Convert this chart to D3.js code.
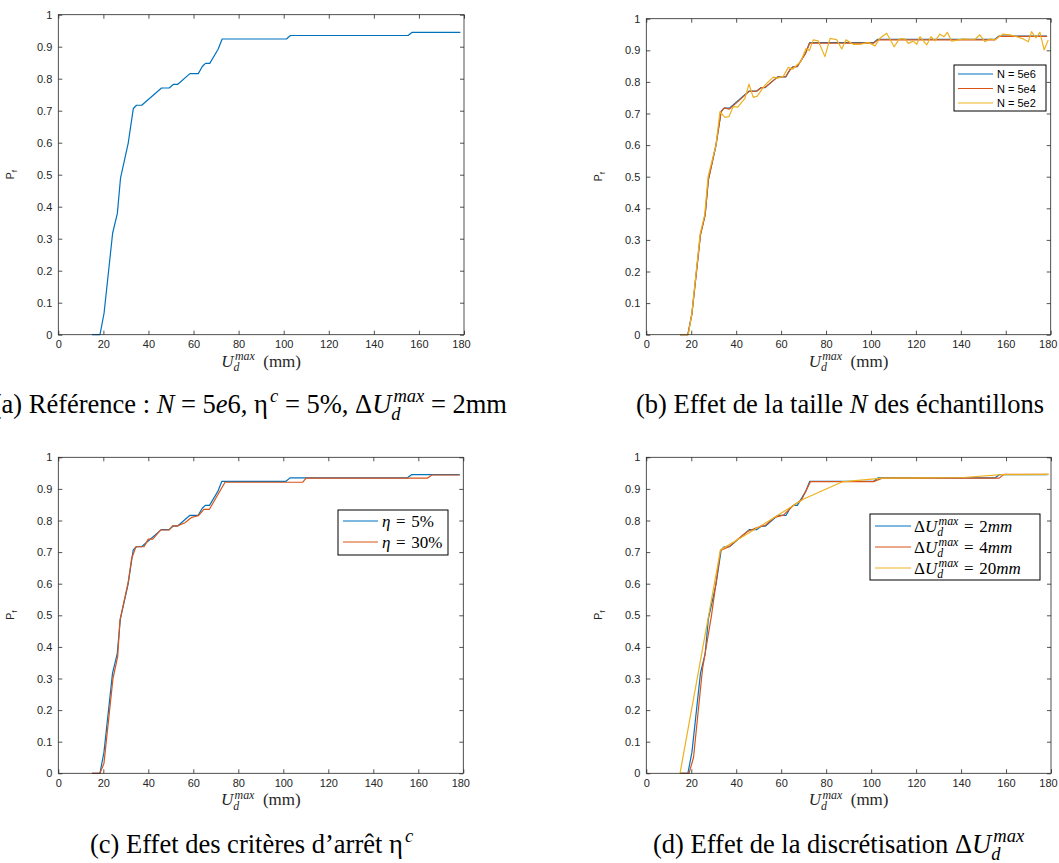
<!DOCTYPE html>
<html>
<head>
<meta charset="utf-8">
<script src="https://cdn.jsdelivr.net/npm/d3@7"></script>
<style>
body { margin: 0; background: #fff; }
text { white-space: pre; }
</style>
</head>
<body>
<div id="chart-area"></div>
<script>
// ticks
var xTicks = [0, 20, 40, 60, 80, 100, 120, 140, 160, 180];
var yTicks = [0, 0.1, 0.2, 0.3, 0.4, 0.5, 0.6, 0.7, 0.8, 0.9, 1];
var yTickLabels = ["0", "0.1", "0.2", "0.3", "0.4", "0.5", "0.6", "0.7", "0.8", "0.9", "1"];

// reference curve : N = 5e6, eta = 5%, dU = 2mm
var refX = [15, 18.5, 20.3, 24.1, 26.2, 27.6, 31.0, 33.3, 34.7, 37.0, 45.8, 49.2, 51.0, 52.9, 58.4, 62.1, 63.9, 65.3, 67.2, 70.9, 72.7, 101.2, 103.0, 155.2, 157.0, 178.4];
var refY = [0, 0, 0.067, 0.317, 0.379, 0.489, 0.598, 0.707, 0.717, 0.717, 0.771, 0.771, 0.782, 0.782, 0.816, 0.816, 0.838, 0.848, 0.848, 0.892, 0.924, 0.924, 0.935, 0.935, 0.945, 0.945];

// N = 5e4 (same grid as ref)
var n5e4Y = [0, 0, 0.065, 0.315, 0.38, 0.49, 0.6, 0.705, 0.718, 0.714, 0.77, 0.771, 0.781, 0.783, 0.815, 0.817, 0.838, 0.847, 0.849, 0.89, 0.923, 0.923, 0.933, 0.933, 0.944, 0.944];

// N = 5e2
var n5e2X = [15, 18.7, 20.3, 24, 26, 27.5, 31, 32.8, 35, 36.8, 38.7, 40.7, 43.9, 45.7, 47.6, 49.4, 52.8, 56.5, 58.5, 61,
	63.2, 65.2, 66.6, 68.7, 71.1, 72.6, 74.3, 76.5, 79.5, 81.8, 84.7, 87, 88.9, 92.1, 95.1, 98.8, 101.8, 104, 107, 110.3,
	112.6, 115.1, 116.6, 118.8, 120.4, 121.8, 124.8, 126.7, 128.5, 130.7, 132.5, 134, 135.9, 138.4, 141.1, 143.3, 146.3, 148.5, 150.7, 153,
	155.2, 158.6, 161.9, 164.9, 167.8, 170, 171.5, 173.4, 175.2, 177.1, 178.9];
var n5e2Y = [0, 0, 0.07, 0.32, 0.38, 0.5, 0.6, 0.706, 0.688, 0.69, 0.722, 0.72, 0.748, 0.793, 0.751, 0.755, 0.79, 0.815, 0.812, 0.818,
	0.846, 0.84, 0.851, 0.864, 0.906, 0.899, 0.933, 0.93, 0.88, 0.938, 0.934, 0.904, 0.933, 0.919, 0.919, 0.925, 0.914, 0.938, 0.954, 0.911,
	0.936, 0.936, 0.922, 0.929, 0.919, 0.943, 0.917, 0.943, 0.93, 0.951, 0.943, 0.957, 0.929, 0.932, 0.936, 0.935, 0.935, 0.949, 0.927, 0.936,
	0.933, 0.951, 0.949, 0.943, 0.936, 0.927, 0.959, 0.939, 0.957, 0.901, 0.933];

// eta = 30%
var eta30X = [15, 18.5, 20.3, 24.3, 26.4, 27.4, 31.1, 32.6, 34.5, 38.1, 40, 42, 45.5, 49.3, 50.8, 52.9, 56.3, 59.3, 62.2, 64.7, 67.1, 74.1, 108.6, 110.1, 164, 166, 178.4];
var eta30Y = [0, 0, 0.032, 0.3, 0.37, 0.485, 0.606, 0.68, 0.717, 0.717, 0.741, 0.741, 0.77, 0.77, 0.783, 0.783, 0.793, 0.81, 0.815, 0.835, 0.835, 0.921, 0.921, 0.934, 0.934, 0.944, 0.944];

// dU = 4mm
var du4X = [15, 19, 21, 25, 29, 33, 37, 41, 45, 49, 53, 57, 61, 65, 69, 73, 101, 105, 157, 159, 178.8];
var du4Y = [0, 0, 0.05, 0.33, 0.5, 0.705, 0.718, 0.742, 0.765, 0.777, 0.785, 0.81, 0.817, 0.845, 0.865, 0.923, 0.923, 0.934, 0.934, 0.946, 0.946];

// dU = 20mm
var du20X = [15, 33, 53, 70, 87, 105, 123, 141, 158, 179];
var du20Y = [0, 0.707, 0.792, 0.868, 0.922, 0.934, 0.935, 0.936, 0.945, 0.946];

var blue = "#0072BD", red = "#D95319", yellow = "#EDB120";
var axisColor = "#262626";
var serif = "'Liberation Serif', 'DejaVu Serif', serif";
var sans = "'Liberation Sans', Arial, sans-serif";
var EQ = "\u2004=\u2004";

var svg = d3.select("#chart-area").append("svg")
	.attr("width", 1059)
	.attr("height", 863);

// one <text>, pieces as tspans, sub and sup stacked
function drawMath(text, parts, size) {
	var shift = 0, pending = 0;
	var raise = size * 0.4, lower = size * 0.26;
	parts.forEach(function(p) {
		if (p.sup !== undefined || p.sub !== undefined) {
			var wSup = 0;
			if (p.sup) {
				var ts = text.append("tspan")
					.attr("dx", pending + size * 0.08)
					.attr("dy", -raise - shift)
					.style("font-size", (size * 0.7) + "px")
					.style("font-style", "italic")
					.text(p.sup);
				shift = -raise;
				wSup = ts.node().getComputedTextLength() + size * 0.08;
				pending = 0;
			}
			if (p.sub) {
				var tb = text.append("tspan")
					.attr("dx", pending - wSup)
					.attr("dy", lower - shift)
					.style("font-size", (size * 0.7) + "px")
					.style("font-style", "italic")
					.text(p.sub);
				shift = lower;
				pending = Math.max(0, wSup - tb.node().getComputedTextLength());
			}
		} else {
			text.append("tspan")
				.attr("dx", pending)
				.attr("dy", -shift)
				.style("font-size", size + "px")
				.style("font-style", p.i ? "italic" : "normal")
				.text(p.t);
			shift = 0;
			pending = 0;
		}
	});
}

function mathCentered(parent, parts, size, cx, y) {
	var t = parent.append("text")
		.attr("x", 0).attr("y", y)
		.style("font-family", serif)
		.attr("fill", "#000");
	drawMath(t, parts, size);
	var bb = t.node().getBBox();
	t.attr("x", cx - bb.width / 2 - bb.x);
	return t;
}

function udLabel(val) {
	return [{t: "Δ"}, {t: "U", i: 1}, {sup: "max", sub: "d"}, {t: EQ + val}, {t: "mm", i: 1}];
}

var panels = [
	{
		left: 58.3, right: 464, top: 14.7, bottom: 334.7, capX: 250, capY: 413,
		series: [{x: refX, y: refY, color: blue}],
		caption: [{t: "(a) Référence : "}, {t: "N", i: 1}, {t: " = 5"}, {t: "e", i: 1}, {t: "6, η"}, {sup: "c"},
			{t: " = 5%, Δ"}, {t: "U", i: 1}, {sup: "max", sub: "d"}, {t: " = 2mm"}]
	},
	{
		left: 646.3, right: 1050.7, top: 18.7, bottom: 334.7, capX: 840, capY: 413,
		series: [
			{x: refX, y: refY, color: blue, label: "N = 5e6"},
			{x: refX, y: n5e4Y, color: red, label: "N = 5e4"},
			{x: n5e2X, y: n5e2Y, color: yellow, label: "N = 5e2"}
		],
		legend: {x: 954, y: 65, w: 92, h: 46, rows: [74, 88.5, 103], l0: 958, l1: 993, tx: 997, math: false},
		caption: [{t: "(b) Effet de la taille "}, {t: "N", i: 1}, {t: " des échantillons"}]
	},
	{
		left: 58.3, right: 463.3, top: 457.3, bottom: 773.3, capX: 252, capY: 853,
		series: [
			{x: refX, y: refY, color: blue, label: [{t: "η", i: 1}, {t: EQ + "5%"}]},
			{x: eta30X, y: eta30Y, color: red, label: [{t: "η", i: 1}, {t: EQ + "30%"}]}
		],
		legend: {x: 338, y: 510, w: 110, h: 45, rows: [521, 542], l0: 343, l1: 378, tx: 382, math: true, size: 17},
		caption: [{t: "(c) Effet des critères d’arrêt η"}, {sup: "c"}]
	},
	{
		left: 646.3, right: 1051, top: 457.3, bottom: 773.3, capX: 839, capY: 853,
		series: [
			{x: refX, y: refY, color: blue, label: udLabel("2")},
			{x: du4X, y: du4Y, color: red, label: udLabel("4")},
			{x: du20X, y: du20Y, color: yellow, label: udLabel("20")}
		],
		legend: {x: 870, y: 514, w: 170, h: 66, rows: [526, 547, 568], l0: 875, l1: 911, tx: 914, math: true, size: 17},
		caption: [{t: "(d) Effet de la discrétisation Δ"}, {t: "U", i: 1}, {sup: "max", sub: "d"}]
	}
];

panels.forEach(function(p) {
	var g = svg.append("g");

	var x = d3.scaleLinear().domain([0, 180]).range([p.left, p.right]);
	var y = d3.scaleLinear().domain([0, 1]).range([p.bottom, p.top]);

	// curves
	var line = d3.line().x(function(d) { return x(d[0]); }).y(function(d) { return y(d[1]); });
	p.series.forEach(function(s) {
		g.append("path")
			.datum(d3.zip(s.x, s.y))
			.attr("d", line)
			.attr("fill", "none")
			.attr("stroke", s.color)
			.attr("stroke-width", 1.2)
			.attr("stroke-linejoin", "round");
	});

	// axes, ticks pointing inwards on all four sides
	var ax = [
		{a: d3.axisBottom(x).tickValues(xTicks).tickFormat(d3.format("d")), t: "translate(0," + p.bottom + ")"},
		{a: d3.axisTop(x).tickValues(xTicks).tickFormat(""), t: "translate(0," + p.top + ")"},
		{a: d3.axisLeft(y).tickValues(yTicks).tickFormat(function(d, i) { return yTickLabels[i]; }), t: "translate(" + p.left + ",0)"},
		{a: d3.axisRight(y).tickValues(yTicks).tickFormat(""), t: "translate(" + p.right + ",0)"}
	];
	ax.forEach(function(o, k) {
		var ag = g.append("g")
			.attr("transform", o.t)
			.call(o.a.tickSizeInner(-4).tickSizeOuter(0).tickPadding(6));
		ag.select(".domain").remove();
		ag.selectAll("line").attr("stroke", axisColor).attr("stroke-width", 0.8);
		ag.selectAll("text")
			.attr("fill", axisColor)
			.style("font-family", sans)
			.style("font-size", "11px");
		if (k == 0) {
			ag.selectAll("text").filter(function(d) { return d == 180; }).attr("dx", -3);
		}
	});

	g.append("rect")
		.attr("x", p.left)
		.attr("y", p.top)
		.attr("width", p.right - p.left)
		.attr("height", p.bottom - p.top)
		.attr("fill", "none")
		.attr("stroke", axisColor)
		.attr("stroke-width", 0.8);

	// y label P_f
	var yl = g.append("text")
		.attr("transform", "translate(" + (p.left - 44) + "," + ((p.top + p.bottom) / 2) + ") rotate(-90)")
		.attr("text-anchor", "middle")
		.attr("fill", axisColor)
		.style("font-family", sans)
		.style("font-size", "11px");
	yl.append("tspan").text("P");
	yl.append("tspan").attr("dy", 3).style("font-size", "8px").text("f");

	// x label
	mathCentered(g, [{t: "U", i: 1}, {sup: "max", sub: "d"}, {t: "  (mm)"}], 17, (p.left + p.right) / 2, p.bottom + 32)
		.attr("fill", axisColor);

	// legend
	if (p.legend) {
		var L = p.legend;
		var lg = g.append("g");
		lg.append("rect")
			.attr("x", L.x).attr("y", L.y)
			.attr("width", L.w).attr("height", L.h)
			.attr("fill", "#fff")
			.attr("stroke", "#000")
			.attr("stroke-width", 1);
		p.series.forEach(function(s, i) {
			lg.append("line")
				.attr("x1", L.l0).attr("x2", L.l1)
				.attr("y1", L.rows[i]).attr("y2", L.rows[i])
				.attr("stroke", s.color)
				.attr("stroke-width", 1.2);
			if (L.math) {
				var mt = lg.append("text")
					.attr("x", L.tx)
					.attr("y", L.rows[i] + L.size * 0.33)
					.style("font-family", serif)
					.attr("fill", "#000");
				drawMath(mt, s.label, L.size);
			} else {
				lg.append("text")
					.attr("x", L.tx)
					.attr("y", L.rows[i] + 4)
					.style("font-family", sans)
					.style("font-size", "11px")
					.attr("fill", "#000")
					.text(s.label);
			}
		});
	}

	// caption
	mathCentered(svg, p.caption, 26.5, p.capX, p.capY);
});
</script>
</body>
</html>
